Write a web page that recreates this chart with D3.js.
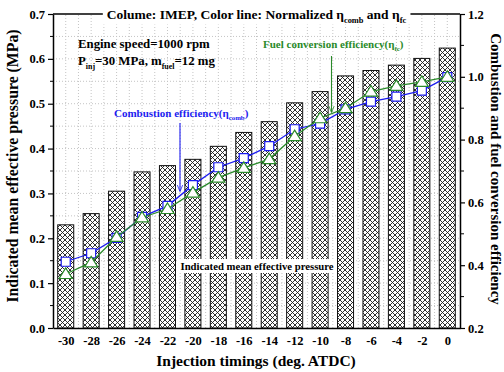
<!DOCTYPE html>
<html>
<head>
<meta charset="utf-8">
<script src="https://cdn.jsdelivr.net/npm/d3@7"></script>
<style>
  body { margin: 0; background: #fff; }
  text { font-family: "Liberation Serif", "Times New Roman", serif; font-weight: bold; }
</style>
</head>
<body>
<div id="chart"></div>
<script>
// Injection timings (deg. ATDC)
const timings = [-30, -28, -26, -24, -22, -20, -18, -16, -14, -12, -10, -8, -6, -4, -2, 0];
// IMEP (MPa), columns
const imep = [0.230, 0.255, 0.305, 0.348, 0.362, 0.376, 0.405, 0.436, 0.460, 0.502, 0.527, 0.562, 0.574, 0.586, 0.601, 0.624];
// normalized combustion efficiency (blue)
const etaComb = [0.411, 0.438, 0.487, 0.554, 0.589, 0.655, 0.712, 0.741, 0.779, 0.833, 0.851, 0.896, 0.921, 0.937, 0.956, 0.999];
// normalized fuel conversion efficiency (green)
const etaFc = [0.372, 0.409, 0.490, 0.552, 0.579, 0.631, 0.679, 0.710, 0.738, 0.811, 0.868, 0.900, 0.953, 0.971, 0.984, 1.000];
const leftTicks = [0, 0.1, 0.2, 0.3, 0.4, 0.5, 0.6, 0.7];
const rightTicks = [0.2, 0.4, 0.6, 0.8, 1.0, 1.2];

const width = 504, height = 372;
const margin = { top: 14, right: 44, bottom: 44, left: 53 };
const blue = "#1c1cf0", green = "#2a8a2a";

const svg = d3.select("#chart").append("svg")
    .attr("width", width)
    .attr("height", height);

const x = d3.scaleLinear().domain([-31, 1]).range([margin.left, width - margin.right]);
const yL = d3.scaleLinear().domain([0, 0.7]).range([height - margin.bottom, margin.top]);
const yR = d3.scaleLinear().domain([0.2, 1.2]).range([height - margin.bottom, margin.top]);

// crosshatch pattern for the columns
const defs = svg.append("defs");
const pat = defs.append("pattern")
    .attr("id", "hatch")
    .attr("patternUnits", "userSpaceOnUse")
    .attr("width", 5).attr("height", 5);
pat.append("rect").attr("width", 5).attr("height", 5).attr("fill", "#fff");
pat.append("path")
    .attr("d", "M0,0L5,5M5,0L0,5")
    .attr("stroke", "#1a1a1a").attr("stroke-width", 0.9);

[["arrBlue", blue], ["arrGreen", green]].forEach(([id, c]) => {
  defs.append("marker")
      .attr("id", id)
      .attr("viewBox", "0 0 10 10")
      .attr("refX", 9).attr("refY", 5)
      .attr("markerWidth", 6).attr("markerHeight", 6)
      .attr("orient", "auto")
    .append("path")
      .attr("d", "M0,1L10,5L0,9")
      .attr("fill", "none").attr("stroke", c).attr("stroke-width", 1.2);
});

// dotted grid
const grid = svg.append("g").attr("stroke", "#c4c4c4").attr("stroke-dasharray", "1,2");
grid.selectAll("line.v")
  .data(d3.range(-30, 1, 1))
  .join("line")
    .attr("x1", d => x(d)).attr("x2", d => x(d))
    .attr("y1", yL(0)).attr("y2", yL(0.7));
grid.selectAll("line.h")
  .data(d3.range(1, 14).map(i => i * 0.05))
  .join("line")
    .attr("x1", x(-31)).attr("x2", x(1))
    .attr("y1", d => yL(d)).attr("y2", d => yL(d));

// columns
const barW = x(-30 + 1.26) - x(-30);
svg.append("g")
  .selectAll("rect")
  .data(timings)
  .join("rect")
    .attr("x", d => x(d) - barW / 2)
    .attr("y", (d, i) => yL(imep[i]))
    .attr("width", barW)
    .attr("height", (d, i) => yL(0) - yL(imep[i]))
    .attr("fill", "url(#hatch)")
    .attr("stroke", "#111")
    .attr("stroke-width", 1);

// efficiency lines
function drawSeries(vals, color, shape) {
  const pts = timings.map((t, i) => [x(t), yR(vals[i])]);
  svg.append("path")
      .datum(pts)
      .attr("d", d3.line())
      .attr("fill", "none")
      .attr("stroke", color)
      .attr("stroke-width", 1.3);
  svg.append("g")
    .selectAll("path")
    .data(pts)
    .join("path")
      .attr("transform", d => `translate(${d[0]},${d[1]})`)
      .attr("d", shape)
      .attr("fill", "#fff")
      .attr("stroke", color)
      .attr("stroke-width", 1.2);
}
drawSeries(etaComb, blue, "M-4.5,-4.5H4.5V4.5H-4.5Z");
drawSeries(etaFc, green, "M0,-6L6.5,4.5H-6.5Z");

// axes
const axL = svg.append("g")
    .attr("transform", `translate(${margin.left},0)`)
    .call(d3.axisLeft(yL).tickValues(leftTicks).tickFormat(d3.format(".1f")).tickSize(5).tickPadding(3).tickSizeOuter(0));
axL.selectAll("line.minor")
  .data(leftTicks.slice(0, -1).map(d => d + 0.05))
  .join("line")
    .attr("x1", 0).attr("x2", -3)
    .attr("y1", d => yL(d)).attr("y2", d => yL(d))
    .attr("stroke", "#000");

const axR = svg.append("g")
    .attr("transform", `translate(${width - margin.right},0)`)
    .call(d3.axisRight(yR).tickValues(rightTicks).tickFormat(d3.format(".1f")).tickSize(5).tickPadding(3).tickSizeOuter(0));
axR.selectAll("line.minor")
  .data(rightTicks.slice(0, -1).map(d => d + 0.1))
  .join("line")
    .attr("x1", 0).attr("x2", 4)
    .attr("y1", d => yR(d)).attr("y2", d => yR(d))
    .attr("stroke", "#000");

const axB = svg.append("g")
    .attr("transform", `translate(0,${height - margin.bottom})`)
    .call(d3.axisBottom(x).tickValues(timings).tickFormat(d => d).tickSize(0).tickPadding(8).tickSizeOuter(0));

[axL, axR, axB].forEach(a => {
  a.selectAll("text").attr("font-size", 12.5).attr("fill", "#000")
    .style("font-family", '"Liberation Serif", serif').style("font-weight", "bold");
  a.select(".domain").attr("stroke-width", 1.5);
  a.selectAll(".tick line").attr("stroke-width", 1.2);
});

// top frame line
svg.append("line")
    .attr("x1", x(-31)).attr("x2", x(1))
    .attr("y1", yL(0.7)).attr("y2", yL(0.7))
    .attr("stroke", "#000").attr("stroke-width", 1.5);

// helper for text with subscripts: parts = [[text, isSub], ...]
function richText(g, parts, size) {
  const t = g.append("text").attr("font-size", size);
  parts.forEach(([s, sub], k) => {
    const ts = t.append("tspan").text(s);
    if (sub) ts.attr("font-size", size * 0.62).attr("dy", size * 0.3);
    else if (k > 0 && parts[k - 1][1]) ts.attr("dy", -size * 0.3);
  });
  return t;
}

// header
const head = svg.append("g");
const headText = richText(head, [["Colume: IMEP, Color line: Normalized η", 0], ["comb", 1], [" and η", 0], ["fc", 1]], 13.5)
    .attr("x", (x(-31) + x(1)) / 2).attr("y", yL(0.7) + 4.5)
    .attr("text-anchor", "middle");
const hb = headText.node().getBBox();
head.insert("rect", "text")
    .attr("x", hb.x - 4).attr("y", hb.y)
    .attr("width", hb.width + 8).attr("height", hb.height)
    .attr("fill", "#fff");

// engine conditions
svg.append("text").attr("x", 78).attr("y", 48).attr("font-size", 12.8).text("Engine speed=1000 rpm");
richText(svg, [["P", 0], ["inj", 1], ["=30 MPa, m", 0], ["fuel", 1], ["=12 mg", 0]], 12.8)
    .attr("x", 78).attr("y", 65);

// series labels with arrows
richText(svg, [["Combustion efficiency(η", 0], ["comb", 1], [")", 0]], 11)
    .attr("x", 114).attr("y", 117).attr("fill", blue);
svg.append("line")
    .attr("x1", 180).attr("x2", 180).attr("y1", 123).attr("y2", 191)
    .attr("stroke", blue).attr("stroke-width", 1.1)
    .attr("marker-end", "url(#arrBlue)");

richText(svg, [["Fuel conversion efficiency(η", 0], ["fc", 1], [")", 0]], 11)
    .attr("x", 263).attr("y", 48).attr("fill", green);
svg.append("line")
    .attr("x1", 331.5).attr("x2", 331.5).attr("y1", 56).attr("y2", 112)
    .attr("stroke", green).attr("stroke-width", 1.1)
    .attr("marker-end", "url(#arrGreen)");

// column label
const colLab = svg.append("g");
const cl = colLab.append("text")
    .attr("x", 257).attr("y", 270).attr("text-anchor", "middle")
    .attr("font-size", 10.7).text("Indicated mean effective pressure");
const cb = cl.node().getBBox();
colLab.insert("rect", "text")
    .attr("x", cb.x - 3).attr("y", cb.y - 1)
    .attr("width", cb.width + 6).attr("height", cb.height + 2)
    .attr("fill", "#fff");

// axis titles
svg.append("text")
    .attr("transform", `translate(18,166) rotate(-90)`)
    .attr("text-anchor", "middle").attr("font-size", 15.8)
    .text("Indicated mean effective pressure (MPa)");
svg.append("text")
    .attr("transform", `translate(491,169) rotate(90)`)
    .attr("text-anchor", "middle").attr("font-size", 15)
    .text("Combustion and fuel conversion efficiency");
svg.append("text")
    .attr("x", 256).attr("y", 366)
    .attr("text-anchor", "middle").attr("font-size", 15.5)
    .text("Injection timings (deg. ATDC)");
</script>
</body>
</html>
